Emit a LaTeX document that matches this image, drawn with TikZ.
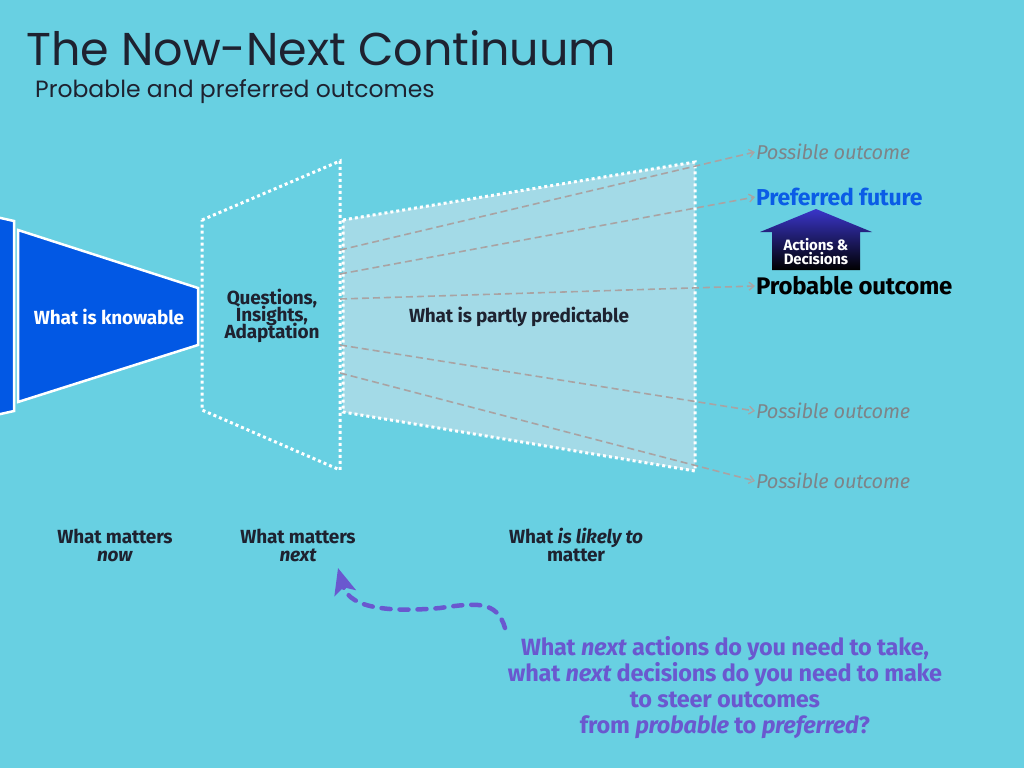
\documentclass[tikz,border=0pt]{standalone}
\usepackage{fontspec}
\usetikzlibrary{arrows.meta}
\setmainfont{Fira Sans}
\newfontfamily\titlefont{Poppins}
\newfontfamily\bodyfont[LetterSpace=-1]{Fira Sans}
\definecolor{bgc}{HTML}{68D0E2}
\definecolor{knowblue}{HTML}{0258E4}
\definecolor{lightfill}{HTML}{A3DAE7}
\definecolor{dashgray}{HTML}{A9A3A3}
\definecolor{outgray}{HTML}{7E8488}
\definecolor{prefblue}{HTML}{0A5CE6}
\definecolor{qpurple}{HTML}{6A58CF}
\definecolor{darktext}{HTML}{1E2230}
\definecolor{arrowtop}{HTML}{3A35C9}
\tikzset{
  outline/.style={draw=white, line width=2.5pt, fill=knowblue, line join=miter},
  dotbox/.style={draw=white, line width=3pt, dash pattern=on 3pt off 3pt},
  futureline/.style={draw=dashgray, line width=1.6pt, dash pattern=on 7pt off 4pt, -{Straight Barb[length=5pt,width=8pt,line width=1.3pt]}},
  bodytxt/.style={font=\bodyfont\bfseries\fontsize{19}{20}\selectfont, text=darktext, align=center, inner sep=0pt},
  possible/.style={font=\bodyfont\itshape\fontsize{20}{22}\selectfont, text=outgray, anchor=west, inner sep=1pt},
}
\begin{document}
\begin{tikzpicture}[x=1pt,y=-1pt]
\useasboundingbox[fill=bgc] (0,0) rectangle (1024,768);

% titles
\node[anchor=base west, inner sep=0pt, font=\titlefont\fontsize{46}{50}\selectfont, text=darktext] (title) at (26,66) {The Now-Next Continuum};
\node[anchor=base west, inner sep=0pt, font=\titlefont\fontsize{23.5}{26}\selectfont, text=darktext] (subtitle) at (35,97) {Probable and preferred outcomes};

% blue shapes
\draw[outline] (-80,200) -- (14,221) -- (14,411) -- (-80,432) -- cycle;
\draw[outline] (18,230) -- (198,288) -- (198,345) -- (18,402) -- cycle;
\node[bodytxt, text=white] (know) at (109,317) {What is knowable};

% dotted trapezoid
\draw[dotbox] (202,220) -- (340,161) -- (340,470) -- (202,410) -- cycle;
\node[bodytxt] (qia) at (272,316) {Questions,\\[-3pt]Insights,\\[-3pt]Adaptation};

% light trapezoid
\draw[dotbox, fill=lightfill] (343,220) -- (695,162) -- (695,471) -- (343,412) -- cycle;
\node[bodytxt] (partly) at (519,317) {What is partly predictable};

% outcome labels
\node[possible] (po1) at (755,152) {Possible outcome};
\node[anchor=west, inner sep=1pt, font=\bodyfont\bfseries\fontsize{23}{24}\selectfont, text=prefblue] (pref) at (755,197) {Preferred future};
\node[anchor=west, inner sep=1pt, font=\bodyfont\bfseries\fontsize{24}{26}\selectfont, text=black] (prob) at (755,286) {Probable outcome};
\node[possible] (po2) at (755,411) {Possible outcome};
\node[possible] (po3) at (755,481) {Possible outcome};

% dashed future lines
\coordinate (s1) at (340,250);
\coordinate (s2) at (340,274);
\coordinate (s3) at (340,299);
\coordinate (s4) at (340,345);
\coordinate (s5) at (340,373);
\draw[futureline] (s1) -- (po1.west);
\draw[futureline] (s2) -- (pref.west);
\draw[futureline] (s3) -- (prob.west);
\draw[futureline] (s4) -- (po2.west);
\draw[futureline] (s5) -- (po3.west);

% up arrow
\shade[top color=arrowtop, bottom color=black] (816,209) -- (872,232) -- (860,232) -- (860,270) -- (772,270) -- (772,232) -- (760,232) -- cycle;
\node[font=\bodyfont\bfseries\fontsize{15}{14}\selectfont, text=white, align=center, inner sep=0pt] (ad) at (816,252) {Actions \&\\Decisions};

% bottom labels
\node[bodytxt] (now) at (115,545) {What matters\\[-2pt]\textit{now}};
\node[bodytxt] (next) at (298,545) {What matters\\[-2pt]\textit{next}};
\node[bodytxt] (likely) at (576,545) {What \textit{is likely to}\\[-2pt]matter};

% question
\node[font=\bodyfont\bfseries\fontsize{23.5}{26}\selectfont, text=qpurple, align=center, inner sep=0pt] (q) at (725,688) {What \textit{next} actions do you need to take,\\what \textit{next} decisions do you need to make\\to steer outcomes\\from \textit{probable} to \textit{preferred}?};

\coordinate (qs) at (505,628);
\coordinate (tip) at (338,568);
\draw[qpurple, line width=4.5pt, dash pattern=on 9pt off 9pt, line cap=round, -{Stealth[length=26pt,width=22pt,inset=6pt,line cap=butt]}]
  (qs) .. controls (497,600) and (475,603) .. (440,608) .. controls (395,612) and (350,610) .. (tip);
\end{tikzpicture}
\end{document}
